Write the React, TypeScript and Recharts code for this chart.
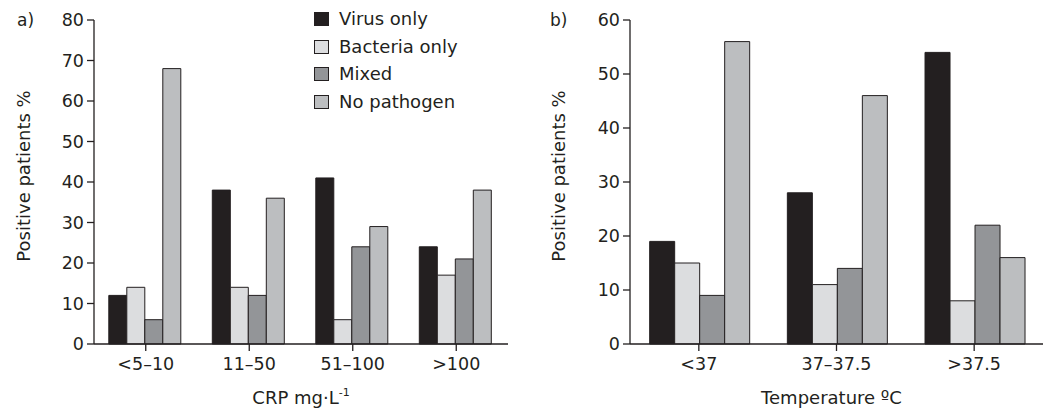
// @ts-nocheck
import React from 'react'
import { BarChart, Bar, XAxis, YAxis, Legend } from 'recharts'

// panel a: CRP
const crpCategories = ['<5–10', '11–50', '51–100', '>100']
const crpVirus = [12, 38, 41, 24]
const crpBacteria = [14, 14, 6, 17]
const crpMixed = [6, 12, 24, 21]
const crpNone = [68, 36, 29, 38]
const crpTicks = [0, 10, 20, 30, 40, 50, 60, 70, 80]

// panel b: temperature
const tempCategories = ['<37', '37–37.5', '>37.5']
const tempVirus = [19, 28, 54]
const tempBacteria = [15, 11, 8]
const tempMixed = [9, 14, 22]
const tempNone = [56, 46, 16]
const tempTicks = [0, 10, 20, 30, 40, 50, 60]

const seriesNames = ['Virus only', 'Bacteria only', 'Mixed', 'No pathogen']
const seriesKeys = ['virus', 'bacteria', 'mixed', 'none']
const seriesColors = ['#231f20', '#dcdddf', '#939598', '#bcbec0']

const ink = '#231f20'
const font = '"DejaVu Sans", sans-serif'

const build = (cats, v, b, m, n) =>
  cats.map((c, i) => ({ name: c, virus: v[i], bacteria: b[i], mixed: m[i], none: n[i] }))

const crpData = build(crpCategories, crpVirus, crpBacteria, crpMixed, crpNone)
const tempData = build(tempCategories, tempVirus, tempBacteria, tempMixed, tempNone)

const tickStyle = { fill: ink, fontSize: 17.5, fontFamily: font }

const LegendBox = () => (
  <div style={{ fontFamily: font, fontSize: 18, color: ink, lineHeight: 1 }}>
    {seriesNames.map((s, i) => (
      <div key={s} style={{ display: 'flex', alignItems: 'center', height: 27.7 }}>
        <span style={{ width: 13, height: 12, background: seriesColors[i], border: `1px solid ${ink}`, marginRight: 10 }} />
        <span>{s}</span>
      </div>
    ))}
  </div>
)

const yLabel = (x) => ({ viewBox }) => (
  <text
    x={x}
    y={176}
    transform={`rotate(-90, ${x}, 176)`}
    textAnchor="middle"
    fill={ink}
    fontSize={18}
    fontFamily={font}
  >
    Positive patients %
  </text>
)

const crpLabel = ({ viewBox }) => (
  <text x={viewBox.x + viewBox.width / 2} y={404} textAnchor="middle" fill={ink} fontSize={18} fontFamily={font}>
    CRP mg·L<tspan dy={-8} fontSize={11}>-1</tspan>
  </text>
)

const tempLabel = ({ viewBox }) => (
  <text x={viewBox.x + viewBox.width / 2 - 5} y={404} textAnchor="middle" fill={ink} fontSize={18} fontFamily={font}>
    Temperature ºC
  </text>
)

function Panel({ data, width, yWidth, right, ticks, max, xLabel, yLabelX, legend }) {
  return (
    <BarChart
      width={width}
      height={411}
      data={data}
      margin={{ top: 20, right, bottom: 0, left: 0 }}
      barCategoryGap="14.3%"
      barGap={0}
    >
      <XAxis
        dataKey="name"
        axisLine={{ stroke: ink, strokeWidth: 1.3 }}
        tickLine={{ stroke: ink, strokeWidth: 1.3 }}
        tickSize={7}
        tickMargin={7}
        tick={tickStyle}
        label={xLabel}
        height={67}
      />
      <YAxis
        domain={[0, max]}
        ticks={ticks}
        interval={0}
        width={yWidth}
        axisLine={{ stroke: ink, strokeWidth: 1.3 }}
        tickLine={{ stroke: ink, strokeWidth: 1.3 }}
        tickSize={7}
        tickMargin={3}
        tick={tickStyle}
        label={yLabel(yLabelX)}
      />
      {legend && (
        <Legend
          layout="horizontal"
          verticalAlign="middle"
          align="center"
          content={<LegendBox />}
          wrapperStyle={{ top: 5, left: 314, width: 200, bottom: 'auto' }}
        />
      )}
      {seriesKeys.map((k, i) => (
        <Bar
          key={k}
          dataKey={k}
          name={seriesNames[i]}
          fill={seriesColors[i]}
          stroke={ink}
          strokeWidth={1}
          isAnimationActive={false}
        />
      ))}
    </BarChart>
  )
}

export default function App() {
  return (
    <div style={{ position: 'absolute', left: 0, top: 0, width: 1051, height: 411, background: '#fff' }}>
      <div style={{ position: 'absolute', left: 17, top: 10, fontFamily: font, fontSize: 17, color: ink }}>a)</div>
      <div style={{ position: 'absolute', left: 550, top: 10, fontFamily: font, fontSize: 17, color: ink }}>b)</div>
      <div style={{ position: 'absolute', left: 0, top: 0 }}>
        <Panel data={crpData} width={520} yWidth={94} right={12} ticks={crpTicks} max={80} xLabel={crpLabel} yLabelX={30} legend />
      </div>
      <div style={{ position: 'absolute', left: 520, top: 0 }}>
        <Panel data={tempData} width={531} yWidth={110} right={8} ticks={tempTicks} max={60} xLabel={tempLabel} yLabelX={45} />
      </div>
    </div>
  )
}
